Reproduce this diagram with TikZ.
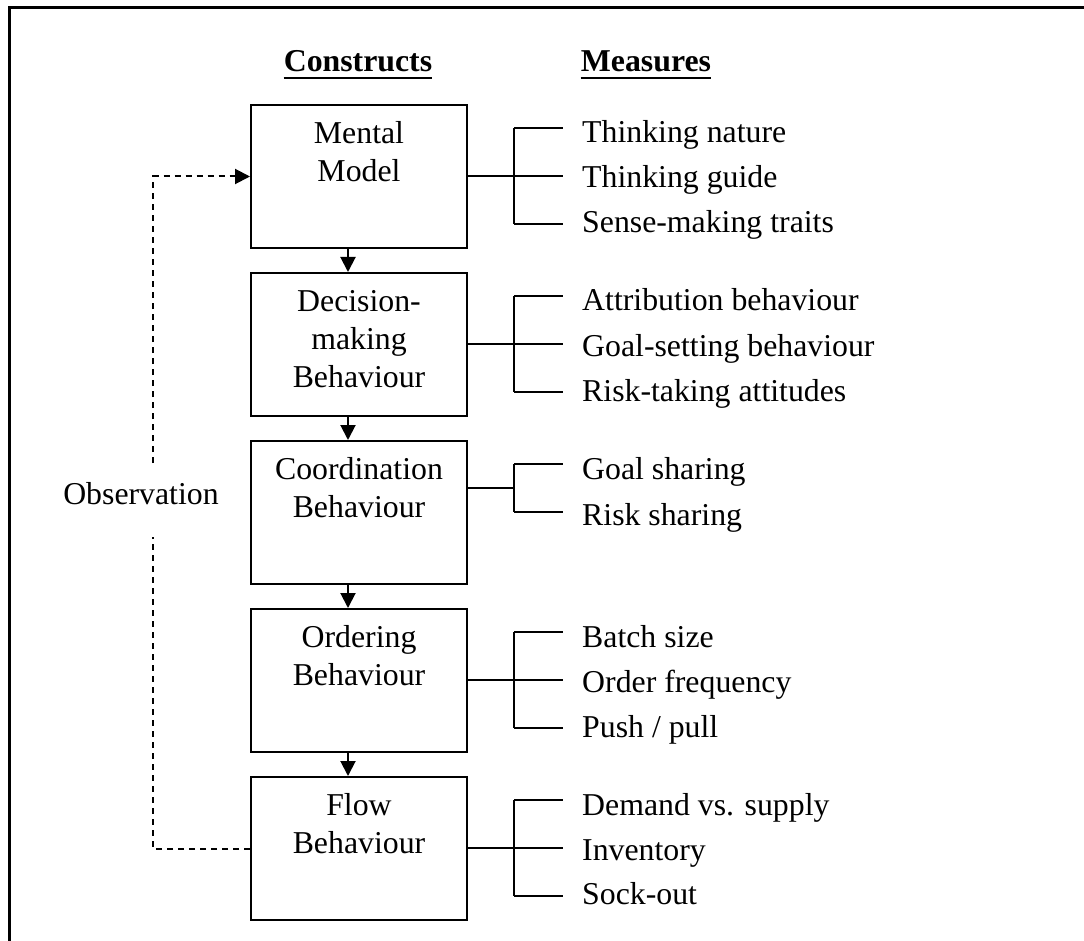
\documentclass[tikz,border=0pt]{standalone}
\usepackage{fontspec}
\setmainfont{Liberation Serif}
\usetikzlibrary{arrows.meta}
\begin{document}
\begin{tikzpicture}[x=1pt,y=-1pt,
  every node/.style={font=\fontsize{31.8}{38}\selectfont, inner sep=0pt},
  box/.style={draw, line width=2pt, minimum width=216pt, minimum height=143pt, anchor=north west},
  lbl/.style={anchor=base},
  meas/.style={anchor=base west},
  head/.style={anchor=base, font=\fontsize{31.8}{38}\selectfont\bfseries},
  link/.style={line width=2pt},
  tip/.style={-{Triangle[length=15pt,width=15pt]}},
  flow/.style={line width=2pt, tip},
  obs/.style={line width=2pt, dash pattern=on 6pt off 5pt}
]
\useasboundingbox (0,0) rectangle (1084,941);
% outer frame (open at bottom and right)
\draw[line width=2.2pt] (9.5,941) -- (9.5,7.5) -- (1084,7.5);

% headings
\node[head] (hc) at (358,72) {Constructs};
\node[head] (hm) at (646,72) {Measures};
\draw[line width=2pt] ([yshift=-6pt]hc.base west) -- ([yshift=-6pt]hc.base east);
\draw[line width=2pt] ([yshift=-6pt]hm.base west) -- ([yshift=-6pt]hm.base east);

% construct boxes
\node[box] (b1) at (250,104) {};
\node[box] (b2) at (250,272) {};
\node[box] (b3) at (250,440) {};
\node[box] (b4) at (250,608) {};
\node[box] (b5) at (250,776) {};

\node[lbl] at ([yshift=-39.5pt]b1.north) {Mental};
\node[lbl] at ([yshift=-77.5pt]b1.north) {Model};
\node[lbl] at ([yshift=-39.5pt]b2.north) {Decision-};
\node[lbl] at ([yshift=-77.5pt]b2.north) {making};
\node[lbl] at ([yshift=-115.5pt]b2.north) {Behaviour};
\node[lbl] at ([yshift=-39.5pt]b3.north) {Coordination};
\node[lbl] at ([yshift=-77.5pt]b3.north) {Behaviour};
\node[lbl] at ([yshift=-39.5pt]b4.north) {Ordering};
\node[lbl] at ([yshift=-77.5pt]b4.north) {Behaviour};
\node[lbl] at ([yshift=-39.5pt]b5.north) {Flow};
\node[lbl] at ([yshift=-77.5pt]b5.north) {Behaviour};

% arrows between boxes
\foreach \a/\b in {b1/b2,b2/b3,b3/b4,b4/b5}
  \draw[flow] ([xshift=-11pt]\a.south) -- ([xshift=-11pt]\b.north);

% measure brackets
\foreach \bx/\yc in {b1/176,b2/344,b4/680,b5/848}{
  \coordinate (j) at (514,\yc);
  \draw[link] (\bx.east |- j) -- (j);
  \draw[link] ([yshift=48pt]j) -- ([yshift=-48pt]j);
  \foreach \d in {48,0,-48}
    \draw[link] ([yshift=\d pt]j) -- ++(49,0);
}
\coordinate (j3) at (514,488);
\draw[link] (b3.east |- j3) -- (j3);
\draw[link] ([yshift=24pt]j3) -- ([yshift=-24pt]j3);
\draw[link] ([yshift=24pt]j3) -- ++(49,0);
\draw[link] ([yshift=-24pt]j3) -- ++(49,0);

% measures
\node[meas] (m11) at (582,143) {Thinking nature};
\node[meas] (m12) at (582,188) {Thinking guide};
\node[meas] (m13) at (582,233) {Sense-making traits};
\node[meas] (m21) at (582,311) {Attribution behaviour};
\node[meas] (m22) at (582,356) {Goal-setting behaviour};
\node[meas] (m23) at (582,401) {Risk-taking attitudes};
\node[meas] (m31) at (582,479.5) {Goal sharing};
\node[meas] (m32) at (582,525.5) {Risk sharing};
\node[meas] (m41) at (582,647) {Batch size};
\node[meas] (m42) at (582,692) {Order frequency};
\node[meas] (m43) at (582,737) {Push / pull};
\node[meas] (m51) at (582,815) {Demand vs. supply};
\node[meas] (m52) at (582,860) {Inventory};
\node[meas] (m53) at (582,904) {Sock-out};

% observation feedback loop
\node[lbl] (obsl) at (141,504) {Observation};
\coordinate (ob) at (153,537);
\coordinate (ot) at (153,463);
\draw[obs] (b5.west) -- (b5.west -| ob) -- (ob);
\draw[obs, tip] (ot) -- (ot |- b1.west) -- (b1.west);
\end{tikzpicture}
\end{document}
